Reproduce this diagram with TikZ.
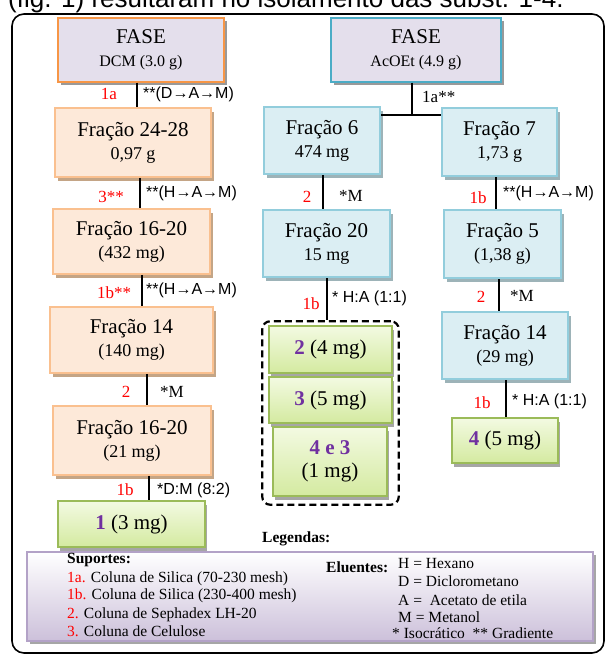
\documentclass[tikz,border=0pt]{standalone}
\usepackage{fontspec}
\setmainfont{Liberation Serif}
\newfontfamily\sansf{Liberation Sans}
\usetikzlibrary{shadows,fit}

\definecolor{faselav}{HTML}{E4DFEC}
\definecolor{dcmorange}{HTML}{F79646}
\definecolor{acoetblue}{HTML}{4BACC6}
\definecolor{orfill}{HTML}{FDE9D9}
\definecolor{orline}{HTML}{FAC08F}
\definecolor{orshadow}{HTML}{C4A586}
\definecolor{blfill}{HTML}{DBEEF3}
\definecolor{blline}{HTML}{92CDDC}
\definecolor{blshadow}{HTML}{9DB3B8}
\definecolor{grtop}{HTML}{F3FAE2}
\definecolor{grbot}{HTML}{D4EAA0}
\definecolor{grline}{HTML}{9BBB59}
\definecolor{purp}{HTML}{7030A0}
\definecolor{lbred}{HTML}{FF0000}
\definecolor{legbot}{HTML}{CCC0DA}
\definecolor{legline}{HTML}{B3A2C7}

\newcommand\fbig{\fontsize{21}{23}\selectfont}
\newcommand\fmid{\fontsize{18}{22}\selectfont}
\newcommand\fsml{\fontsize{16}{20}\selectfont}

\tikzset{
  box/.style={rectangle, inner sep=0pt, align=center, font=\fbig},
  fase/.style={box, line width=1.5pt, fill=faselav,
    drop shadow={fill=black!40, opacity=1, shadow xshift=3pt, shadow yshift=-3pt}},
  fracO/.style={box, draw=orline, line width=1.5pt, fill=orfill,
    drop shadow={fill=orshadow, opacity=1, shadow xshift=3pt, shadow yshift=-4pt}},
  fracB/.style={box, draw=blline, line width=2pt, fill=blfill,
    drop shadow={fill=blshadow, opacity=1, shadow xshift=3pt, shadow yshift=-4pt}},
  subst/.style={box, draw=grline, line width=1.5pt, top color=grtop, bottom color=grbot,
    drop shadow={fill=black!35, opacity=1, shadow xshift=2pt, shadow yshift=-4pt}},
  con/.style={line width=1.4pt},
  supl/.style={text=lbred, inner sep=0pt, font=\fontsize{17}{17}\selectfont},
  elu/.style={anchor=west, inner sep=0pt, font=\sansf\fontsize{16}{16}\selectfont},
  elus/.style={anchor=west, inner sep=0pt, font=\fontsize{17}{17}\selectfont},
  leg/.style={anchor=base west, inner sep=0pt, font=\fontsize{15.5}{16}\selectfont},
}

\begin{document}
\begin{tikzpicture}[x=1pt,y=-1pt]
\useasboundingbox (0,0) rectangle (606,655);
\node[anchor=base west, inner sep=0pt, font=\sansf\fontsize{26}{26}\selectfont] (cap) at (8,8) {(fig. 1) resultaram no isolamento das subst. 1-4.};
\draw[line width=1.6pt, rounded corners=12pt] (12,14) rectangle (604,653);

% fase DCM
\node[fase, draw=dcmorange, minimum width=166pt, minimum height=64pt] (fdcm) at (141,50) {FASE\\{\fsml DCM (3.0 g)}};
\node[fracO, minimum width=156pt, minimum height=69pt] (f2428) at (133,142.5) {Fração 24-28\\{\fmid 0,97 g}};
\node[fracO, minimum width=157pt, minimum height=65pt] (f1620a) at (131.5,241.5) {Fração 16-20\\{\fmid (432 mg)}};
\node[fracO, minimum width=163pt, minimum height=66pt] (f14a) at (131.5,340) {Fração 14\\{\fmid (140 mg)}};
\node[fracO, minimum width=158pt, minimum height=69pt] (f1620b) at (132,440.5) {Fração 16-20\\{\fmid (21 mg)}};
\node[subst, minimum width=147pt, minimum height=46pt] (s1) at (131.5,524) {\textcolor{purp}{\textbf{1}} (3 mg)};

\draw[con] ([xshift=-4pt]fdcm.south) -- ([xshift=4pt]f2428.north);
\draw[con] ([xshift=7pt]f2428.south) -- ([xshift=8.5pt]f1620a.north);
\draw[con] ([xshift=10.5pt]f1620a.south) -- ([xshift=10.5pt]f14a.north);
\draw[con] ([xshift=15.5pt]f14a.south) -- ([xshift=15pt]f1620b.north);
\draw[con] ([xshift=17pt]f1620b.south) -- ([xshift=17.5pt]s1.north);

\node[supl] (la1) at (109,94) {1a};
\node[elu] (ea1) at (143,94) {**(D→A→M)};
\node[supl] (la2) at (111,197) {3**};
\node[elu] (ea2) at (146,193) {**(H→A→M)};
\node[supl] (la3) at (114,293) {1b**};
\node[elu] (ea3) at (146,290) {**(H→A→M)};
\node[supl] (la4) at (126,392) {2};
\node[elus] (ea4) at (160,392) {*M};
\node[supl] (la5) at (125,490) {1b};
\node[elu] (ea5) at (157,490) {*D:M (8:2)};

% fase AcOEt
\node[fase, draw=acoetblue, minimum width=170pt, minimum height=64pt] (facoet) at (416,50) {FASE\\{\fsml AcOEt (4.9 g)}};
\node[fracB, minimum width=116pt, minimum height=67pt] (f6) at (322,140.5) {Fração 6\\{\fmid 474 mg}};
\node[fracB, minimum width=115pt, minimum height=68pt] (f7) at (499.5,142) {Fração 7\\{\fmid 1,73 g}};
\node[fracB, minimum width=127pt, minimum height=67pt] (f20) at (326.5,243.5) {Fração 20\\{\fmid 15 mg}};
\node[fracB, minimum width=117pt, minimum height=68pt] (f5) at (502.5,244) {Fração 5\\{\fmid (1,38 g)}};
\node[fracB, minimum width=126pt, minimum height=67pt] (f14b) at (505,345.5) {Fração 14\\{\fmid (29 mg)}};
\node[subst, minimum width=123pt, minimum height=47pt] (s2) at (330.5,349.5) {\textcolor{purp}{\textbf{2}} (4 mg)};
\node[subst, minimum width=123pt, minimum height=46pt] (s3) at (330.5,400) {\textcolor{purp}{\textbf{3}} (5 mg)};
\node[subst, minimum width=114pt, minimum height=69pt] (s43) at (330,461.5) {\textcolor{purp}{\textbf{4 e 3}}\\(1 mg)};
\node[subst, minimum width=106pt, minimum height=45pt] (s4) at (505,440.5) {\textcolor{purp}{\textbf{4}} (5 mg)};
\node[draw, line width=2.2pt, dash pattern=on 7pt off 4pt, rounded corners=8pt, fit=(s2)(s3)(s43), inner xsep=6pt, inner ysep=6pt, yshift=-2pt] (grp) {};

\coordinate (j) at (412,115);
\draw[con] (facoet.south -| j) -- (j);
\draw[con] (f6.east |- j) -- (f7.west |- j);
\draw[con] ([xshift=1pt]f6.south) -- ([xshift=-3.5pt]f20.north);
\draw[con] ([xshift=0.5pt]f20.south) -- ([xshift=-3.5pt]grp.north);
\draw[con] ([xshift=-3.5pt]f7.south) -- ([xshift=-6.5pt]f5.north);
\draw[con] ([xshift=-3.5pt]f5.south) -- ([xshift=-6pt]f14b.north);
\draw[con] ([xshift=1pt]f14b.south) -- ([xshift=1pt]s4.north);

\node[elus] (eb0) at (422,97) {1a**};
\node[supl] (lb1) at (307,197) {2};
\node[elus] (eb1) at (339,196) {*M};
\node[supl] (lb2) at (311,304) {1b};
\node[elu] (eb2) at (332,298) {* H:A (1:1)};
\node[supl] (lb3) at (478,198) {1b};
\node[elu] (eb3) at (503,193) {**(H→A→M)};
\node[supl] (lb4) at (481,297) {2};
\node[elus] (eb4) at (510,296) {*M};
\node[supl] (lb5) at (482,403) {1b};
\node[elu] (eb5) at (512,401) {* H:A (1:1)};

% legenda
\node[leg] (tleg) at (262,542) {\textbf{Legendas:}};
\node[rectangle, draw=legline, line width=2pt, top color=white, bottom color=legbot, minimum width=566pt, minimum height=89pt,
  drop shadow={fill=black!35, opacity=1, shadow xshift=3pt, shadow yshift=-3pt}] (legbox) at (310,596.5) {};
\node[leg] (sup0) at (67,563) {\textbf{Suportes:}};
\node[leg] (sup1) at (67,582) {\textcolor{lbred}{1a.} Coluna de Silica (70-230 mesh)};
\node[leg] (sup2) at (67,599) {\textcolor{lbred}{1b.} Coluna de Silica (230-400 mesh)};
\node[leg] (sup3) at (67,618) {\textcolor{lbred}{2.} Coluna de Sephadex LH-20};
\node[leg] (sup4) at (67,636) {\textcolor{lbred}{3.} Coluna de Celulose};
\node[leg] (elu0) at (326,572) {\textbf{Eluentes:}};
\node[leg] (elu1) at (398,568) {H = Hexano};
\node[leg] (elu2) at (398,586) {D = Diclorometano};
\node[leg] (elu3) at (398,605) {A = \ Acetato de etila};
\node[leg] (elu4) at (398,622) {M = Metanol};
\node[leg] (elu5) at (392,638) {* Isocrático \ ** Gradiente};
\end{tikzpicture}
\end{document}
